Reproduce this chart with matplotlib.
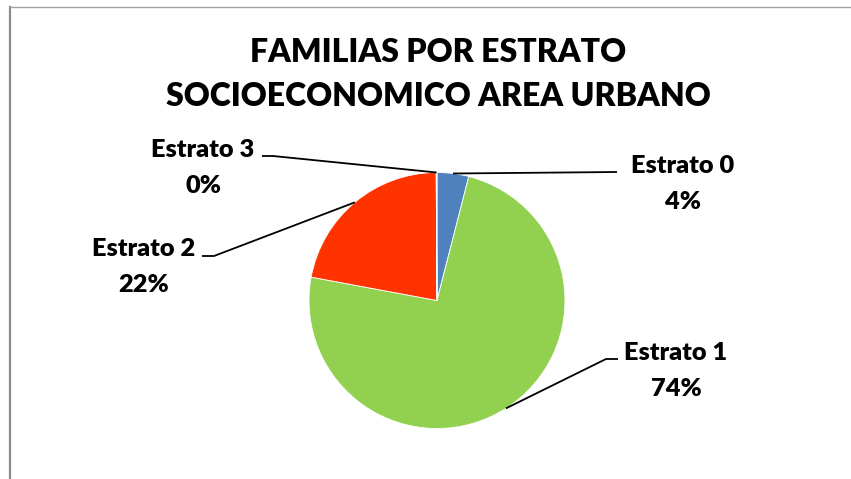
import numpy as np
import matplotlib
matplotlib.use("Agg")
import matplotlib.pyplot as plt
from matplotlib.lines import Line2D

# ---- data ----
categories = ["Estrato 0", "Estrato 1", "Estrato 2", "Estrato 3"]
values = [4.0, 74.0, 22.0, 0.1]
colors = ["#4F81BD", "#92D050", "#FF3300", "#8064A2"]
title_lines = ["FAMILIAS POR ESTRATO", "SOCIOECONOMICO AREA URBANO"]

W, H = 851, 479
FONT = "Lato"
WEIGHT = "heavy"

fig = plt.figure(figsize=(W / 100, H / 100), dpi=100)
ax = fig.add_axes([0, 0, 1, 1])

def Y(py):
    return H - py

cx, cy, r = 437, Y(300.5), 128
wedges, _ = ax.pie(values, colors=colors, startangle=90, counterclock=False,
                   center=(cx, cy), radius=r, frame=True,
                   wedgeprops=dict(linewidth=0.6, edgecolor="white"))
ax.set_xlim(0, W)
ax.set_ylim(0, H)
ax.set_aspect("equal")
ax.axis("off")

total = sum(values)
pct = [f"{round(v / total * 100):.0f}%" for v in values]

# label layout: (center x, baseline y of name, baseline y of percent), leader bend points
label_pos = {
    "Estrato 0": (683, 173, 209),
    "Estrato 1": (676, 360, 396),
    "Estrato 2": (144, 256, 292),
    "Estrato 3": (203, 157, 193),
}
leader_pts = {
    "Estrato 0": [(617, 172)],
    "Estrato 1": [(606, 359), (618, 359)],
    "Estrato 2": [(214, 256), (202, 256)],
    "Estrato 3": [(273, 156), (262, 156)],
}

for w, cat, p in zip(wedges, categories, pct):
    lx, ny, py = label_pos[cat]
    ax.text(lx, Y(ny), cat, ha="center", va="baseline", fontsize=18.3,
            fontweight=WEIGHT, family=FONT, color="black")
    ax.text(lx, Y(py), p, ha="center", va="baseline", fontsize=18.3,
            fontweight=WEIGHT, family=FONT, color="black")
    mid = np.deg2rad((w.theta1 + w.theta2) / 2)
    sx, sy = cx + r * np.cos(mid), cy + r * np.sin(mid)
    xs = [sx] + [q[0] for q in leader_pts[cat]]
    ys = [sy] + [Y(q[1]) for q in leader_pts[cat]]
    ax.plot(xs, ys, color="black", lw=1.3, solid_capstyle="butt")

# title
ax.text(438, Y(62), title_lines[0], ha="center", va="baseline", fontsize=23,
        fontweight=WEIGHT, family=FONT)
ax.text(438, Y(106), title_lines[1], ha="center", va="baseline", fontsize=23,
        fontweight=WEIGHT, family=FONT)

# chart frame (partly cut off at right/bottom)
fig.add_artist(Line2D([10 / W, 10 / W], [0, 1 - 7 / H], transform=fig.transFigure,
                      color="#8C8C8C", lw=1.6))
fig.add_artist(Line2D([10 / W, 1], [1 - 7 / H, 1 - 7 / H], transform=fig.transFigure,
                      color="#A0A0A0", lw=1.0))

fig.savefig("out.png", dpi=100, facecolor="white")
